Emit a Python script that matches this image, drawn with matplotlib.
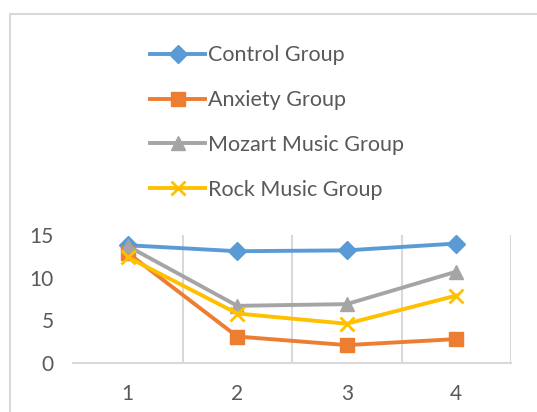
import matplotlib
matplotlib.use("Agg")
import matplotlib.pyplot as plt
from matplotlib.patches import Rectangle

plt.rcParams["font.family"] = ["Lato", "DejaVu Sans"]

categories = [1, 2, 3, 4]
control = [13.8, 13.1, 13.2, 14.0]
anxiety = [12.9, 3.1, 2.1, 2.8]
mozart = [13.7, 6.7, 6.9, 10.7]
rock = [12.4, 5.8, 4.6, 7.9]

series = [
    ("Control Group", control, "#5B9BD5", "D", 9),
    ("Anxiety Group", anxiety, "#ED7D31", "s", 10),
    ("Mozart Music Group", mozart, "#A5A5A5", "^", 10),
    ("Rock Music Group", rock, "#FFC000", "x", 10),
]

text_color = "#595959"
grid_color = "#D9D9D9"

fig = plt.figure(figsize=(5.37, 4.12), dpi=100)
# light chart-area border (only top and left edges are inside the image)
fig.patches.append(Rectangle((10 / 537, -0.1), 1.2, (412 - 14) / 412 + 0.1,
                             transform=fig.transFigure, fill=False,
                             edgecolor=grid_color, linewidth=1.5))

ax = fig.add_axes([73 / 537, 49 / 412, 438 / 537, 128 / 412])

handles = []
for label, vals, color, marker, ms in series:
    h, = ax.plot(categories, vals, color=color, linewidth=2.8, marker=marker,
                 markersize=ms, markeredgewidth=2 if marker == "x" else 1,
                 markeredgecolor=color, label=label)
    handles.append(h)

ax.set_xlim(0.5, 4.5)
ax.set_ylim(0, 15)
ax.set_yticks([0, 5, 10, 15])
ax.set_xticks(categories)
for x in [1.5, 2.5, 3.5, 4.5]:
    ax.axvline(x, color=grid_color, linewidth=1.5, zorder=0)

for side in ["left", "top", "right"]:
    ax.spines[side].set_visible(False)
ax.spines["bottom"].set_color(grid_color)
ax.spines["bottom"].set_linewidth(1.5)
ax.tick_params(axis="both", length=0, labelsize=15, colors=text_color)
ax.tick_params(axis="y", pad=14)
ax.tick_params(axis="x", pad=15)

fig.legend(handles=handles, loc="upper left",
           bbox_to_anchor=(131 / 537, (412 - 26) / 412),
           frameon=False, fontsize=15.5, labelcolor=text_color,
           handlelength=2.55, handletextpad=0.15, labelspacing=1.15)

fig.savefig("out.png", dpi=100)
